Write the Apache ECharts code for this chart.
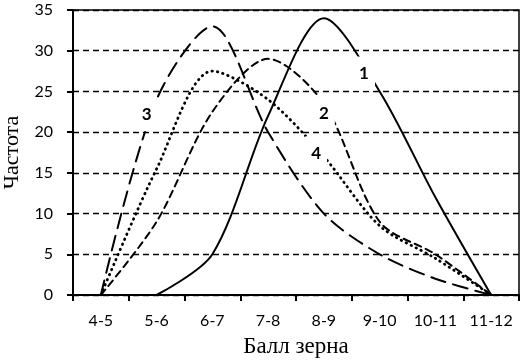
<!DOCTYPE html>
<html><head><meta charset="utf-8">
<script src="https://cdn.jsdelivr.net/npm/echarts@6/dist/echarts.min.js"></script>
<style>html,body{margin:0;padding:0;background:#fff}#c{width:522px;height:362px}</style>
</head><body><div id="c"></div>
<script>
var categories = ['4-5','5-6','6-7','7-8','8-9','9-10','10-11','11-12'];
var series1 = [null, 0, 5, 22, 34, 25, 12, 0];
var series2 = [0, 9, 22.5, 29, 23.5, 9, 5, 0];
var series3 = [0, 24, 33, 20, 10, 5, 2, 0];
var series4 = [0, 15.5, 27.5, 24, 17, 8.5, 4.5, 0];
var labelNames = ['1', '2', '3', '4'];
var labelX = [4.72, 4.0, 0.82, 3.86];
var labelY = [27.2, 22.3, 22.2, 17.4];
var yTicks = [0, 5, 10, 15, 20, 25, 30, 35];

var chart = echarts.init(document.getElementById('c'), null, {renderer: 'canvas'});
var tickFont = {fontFamily: 'Lato', fontSize: 16, color: '#000'};
function lineSeries(name, data, dash, width) {
  return {
    name: name, type: 'line', data: data, smooth: 0.3, symbol: 'none',
    lineStyle: {color: '#000', width: width, type: dash, cap: 'round'},
    z: 3
  };
}
var labelData = labelNames.map(function (n, i) { return [labelX[i], labelY[i], n]; });
chart.setOption({
  animation: false,
  backgroundColor: '#fff',
  grid: {left: 73, right: 3, top: 10, bottom: 67, show: true, borderColor: '#000', borderWidth: 1.5,
    containLabel: false, outerBoundsMode: 'none'},
  xAxis: [{
    type: 'category', data: categories, boundaryGap: true,
    name: 'Балл зерна', nameLocation: 'middle', nameGap: 40,
    nameTextStyle: {fontFamily: 'Liberation Serif', fontSize: 23, color: '#000', verticalAlign: 'top'},
    axisLine: {lineStyle: {color: '#000', width: 2}},
    axisTick: {show: true, length: 6, lineStyle: {color: '#000', width: 2}, interval: 0},
    axisLabel: Object.assign({margin: 18, interval: 0}, tickFont),
    splitLine: {show: false}
  }, {
    type: 'value', min: -0.5, max: 7.5, show: false
  }],
  yAxis: {
    type: 'value', min: 0, max: 35, interval: 5,
    name: 'Частота', nameLocation: 'middle', nameGap: 48, nameRotate: 90,
    nameTextStyle: {fontFamily: 'Liberation Serif', fontSize: 22, color: '#000'},
    axisLine: {show: true, onZero: false, lineStyle: {color: '#000', width: 2}},
    axisTick: {show: true, length: 6, lineStyle: {color: '#000', width: 2}},
    axisLabel: Object.assign({margin: 20, formatter: function (v) { return yTicks.indexOf(v) >= 0 ? String(v) : ''; }}, tickFont),
    splitLine: {show: true, lineStyle: {color: '#000', width: 1.3, type: [6, 4]}}
  },
  series: [
    lineSeries('1', series1, 'solid', 2),
    lineSeries('2', series2, [7, 5], 2),
    lineSeries('3', series3, [15, 8], 2),
    lineSeries('4', series4, [0.5, 5], 2.8),
    {
      type: 'scatter', xAxisIndex: 1, data: labelData, symbol: 'rect', symbolSize: [22, 34],
      itemStyle: {color: '#fff', opacity: 1}, z: 10, emphasis: {disabled: true},
      label: {show: true, position: 'inside', opacity: 1, formatter: function (p) { return p.data[2]; },
        fontFamily: 'Lato', fontWeight: 'bold', fontSize: 17, color: '#000'}
    }
  ]
});
</script></body></html>
